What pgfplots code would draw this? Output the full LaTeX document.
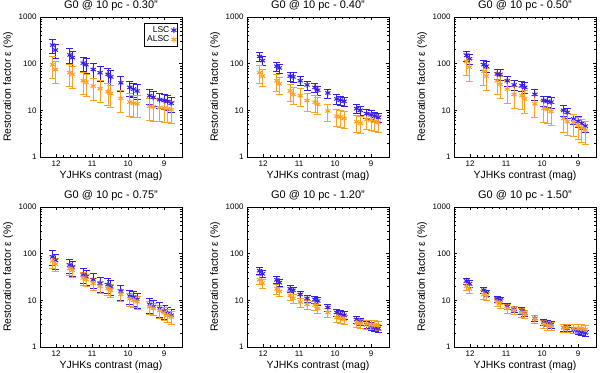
\documentclass[border=0pt]{standalone}
\usepackage{fontspec}
\setmainfont{Liberation Sans}
\usepackage{pgfplots}
\usepackage{pgfplotstable}
\pgfplotsset{compat=1.18}
\usepgfplotslibrary{groupplots}

\definecolor{lscblue}{RGB}{55,30,235}
\definecolor{alscorange}{RGB}{255,160,30}

% columns: contrast (mag), LSC and ALSC restoration factor (%)
\pgfplotstableread{
x l a
12.10 250 95
12.02 196 75
11.62 154 64
11.55 135 59
11.25 103 43
11.17 95 40
10.97 75 33
10.78 64 29
10.56 59 25
10.48 52 23
10.20 39 18
9.95 31 15
9.85 28.5 14.2
9.75 26 13.8
9.40 20.6 12.2
9.30 19 11.8
9.12 17 11.4
9.00 16.2 11.2
8.90 15.5 10.8
8.80 14.2 10.3
}\pa
\pgfplotstableread{
x l a
12.10 142 64
12.02 116 54
11.62 88 43
11.55 81 37
11.25 54 26
11.17 52 22
10.97 43 20.6
10.78 35 16.2
10.56 31 15
10.48 27 13.4
10.20 23.5 9.7
9.95 17.6 7.5
9.85 16.5 7.2
9.75 15.6 6.7
9.40 10.9 5.7
9.30 10 5.3
9.12 8.5 6.4
9.00 8.0 6.2
8.90 7.5 5.8
8.80 7.0 5.5
}\pb
\pgfplotstableread{
x l a
12.10 150 112
12.02 127 84
11.62 95 69
11.55 88 54
11.25 60 43
11.17 59 36
10.97 43 28.5
10.78 35 22
10.56 34 20.6
10.48 31 17.6
10.20 22 13.8
9.95 16.2 11
9.85 15.6 10.5
9.75 15 9.5
9.40 10 6.7
9.30 9 5.7
9.12 6.5 5.5
9.00 5.8 4.8
8.90 5.2 4.2
8.80 4.6 3.8
}\pc
\pgfplotstableread{
x l a
12.10 85 70
12.02 72 60
11.62 57 48
11.55 51 44
11.25 35 30
11.17 32 28
10.97 27.5 23
10.78 23 20
10.56 21.7 18
10.48 19.4 16.5
10.20 15.7 13.5
9.95 12.3 10.8
9.85 11.6 10
9.75 10.5 9.3
9.40 8.2 7.3
9.30 7.4 6.7
9.12 6.7 6.0
9.00 5.9 5.4
8.90 5.2 4.8
8.80 4.8 4.4
}\pd
\pgfplotstableread{
x l a
12.10 43 27.5
12.02 37 23.5
11.62 27.5 17.6
11.55 24 15.6
11.25 17.6 12.7
11.17 16.4 11
10.97 13.4 9.2
10.78 11 8.2
10.56 10.5 7.9
10.48 9.7 6.7
10.20 7 5.5
9.95 5.5 4.3
9.85 5.1 4.1
9.75 4.8 3.9
9.40 3.9 3.3
9.30 3.5 3.2
9.12 3.0 3.1
9.00 2.8 3.0
8.90 2.6 3.0
8.80 2.5 2.9
}\pe
\pgfplotstableread{
x l a
12.10 26 20
12.02 22.7 17.6
11.62 16.5 13.4
11.55 14.5 12.3
11.25 10.8 9.2
11.17 10.2 8.6
10.97 7.4 6.7
10.78 6.5 6.1
10.56 6.0 5.5
10.48 5.3 5.1
10.20 4.1 4.0
9.95 3.4 3.1
9.85 3.2 2.9
9.75 3.0 2.8
9.40 2.6 2.6
9.30 2.5 2.6
9.12 2.3 2.5
9.00 2.2 2.5
8.90 2.1 2.5
8.80 2.0 2.4
}\pf

\pgfplotsset{
  lsc/.style={only marks, mark=asterisk, mark size=3pt, color=lscblue, line width=1pt,
    error bars/.cd, y dir=both, y fixed relative=#1,
    error bar style={color=lscblue, line width=0.8pt},
    error mark options={rotate=90, mark size=3.5pt, line width=0.8pt, color=lscblue}},
  alsc/.style={only marks, mark=asterisk, mark size=3pt, color=alscorange, line width=1pt,
    error bars/.cd, y dir=both, y fixed relative=#1,
    error bar style={color=alscorange, line width=0.8pt},
    error mark options={rotate=90, mark size=3.5pt, line width=0.8pt, color=alscorange}},
}

\begin{document}
\begin{tikzpicture}
\begin{groupplot}[
  group style={group size=3 by 2, horizontal sep=65pt, vertical sep=50pt},
  scale only axis, width=142pt, height=140pt,
  x dir=reverse, xmin=8.5, xmax=12.45,
  ymode=log, ymin=1, ymax=1000,
  xtick={9,10,11,12}, minor x tick num=4,
  ytick={1,10,100,1000}, yticklabels={1,10,100,1000},
  minor ytick={2,3,4,5,6,7,8,9,20,30,40,50,60,70,80,90,200,300,400,500,600,700,800,900},
  major tick length=3pt, minor tick length=1.6pt,
  tick style={black, line width=0.5pt},
  axis line style={line width=0.6pt},
  /pgf/number format/assume math mode=true,
  ticklabel style={font=\fontsize{8}{9}\selectfont},
  xlabel={YJHKs contrast (mag)}, ylabel={Restoration factor ε (\%)},
  label style={font=\fontsize{10.5}{12}\selectfont},
  xlabel style={at={(axis description cs:0.5,-0.135)}, anchor=center},
  ylabel style={at={(axis description cs:-0.225,0.5)}, anchor=center},
  title style={font=\fontsize{11}{13}\selectfont, yshift=-3pt},
]
\nextgroupplot[title={G0 @ 10 pc - 0.30"},
  legend style={at={(0.97,0.955)}, anchor=north east, font=\fontsize{8.5}{10}\selectfont,
    legend cell align=right, inner sep=1pt, row sep=-2pt, draw=black},
  legend plot pos=right]
\addplot[lsc=0.35] table[x=x,y=l]{\pa};
\addplot[alsc=0.5] table[x=x,y=a]{\pa};
\legend{LSC,ALSC}
\nextgroupplot[title={G0 @ 10 pc - 0.40"}]
\addplot[lsc=0.22] table[x=x,y=l]{\pb};
\addplot[alsc=0.4] table[x=x,y=a]{\pb};
\nextgroupplot[title={G0 @ 10 pc - 0.50"}]
\addplot[lsc=0.25] table[x=x,y=l]{\pc};
\addplot[alsc=0.5] table[x=x,y=a]{\pc};
\nextgroupplot[title={G0 @ 10 pc - 0.75"}]
\addplot[lsc=0.35] table[x=x,y=l]{\pd};
\addplot[alsc=0.3] table[x=x,y=a]{\pd};
\nextgroupplot[title={G0 @ 10 pc - 1.20"}]
\addplot[lsc=0.18] table[x=x,y=l]{\pe};
\addplot[alsc=0.22] table[x=x,y=a]{\pe};
\nextgroupplot[title={G0 @ 10 pc - 1.50"}]
\addplot[lsc=0.15] table[x=x,y=l]{\pf};
\addplot[alsc=0.2] table[x=x,y=a]{\pf};
\end{groupplot}
\pgfresetboundingbox
\path ([xshift=-40pt,yshift=17pt]group c1r1.north west) rectangle ([xshift=4pt,yshift=-26pt]group c3r2.south east);
\end{tikzpicture}
\end{document}
